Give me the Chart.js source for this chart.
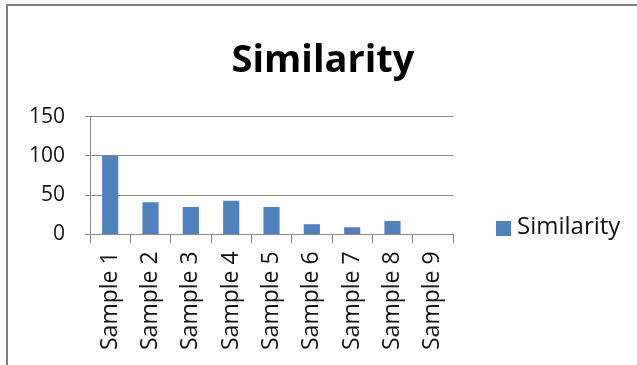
<!DOCTYPE html>
<html>
<head>
<meta charset="utf-8">
<script src="https://cdn.jsdelivr.net/npm/chart.js@4.4.1/dist/chart.umd.min.js"></script>
<style>
  html, body { margin: 0; padding: 0; background: #ffffff; }
  #wrap { position: relative; width: 637px; height: 365px; }
</style>
</head>
<body>
<div id="wrap"><canvas id="chart_similarity"></canvas></div>
<script>
// data
var categories = ['Sample 1', 'Sample 2', 'Sample 3', 'Sample 4', 'Sample 5', 'Sample 6', 'Sample 7', 'Sample 8', 'Sample 9'];
var similarityValues = [100, 41, 35, 43, 35, 13, 9, 17, 0];
var yTicks = [0, 50, 100, 150];

var textColor = '#111111';
var gridColor = '#8a8a8a';

var chart_similarity = new Chart(document.getElementById('chart_similarity'), {
    type: 'bar',
    data: {
        labels: categories,
        datasets: [
            {
                label: 'Similarity',
                data: similarityValues,
                backgroundColor: '#4f81bd',
                borderWidth: 0,
                categoryPercentage: 1.0,
                barPercentage: 0.4
            }
        ]
    },
    options: {
        animation: false,
        responsive: true,
        maintainAspectRatio: false,
        layout: {
            padding: { left: 9, right: 0, top: 0, bottom: 7 }
        },
        plugins: {
            title: {
                display: true,
                text: 'Similarity',
                color: '#000000',
                font: { family: 'Open Sans', size: 38, weight: 'bold' },
                padding: { top: 38, bottom: 33 }
            },
            legend: { display: false },
            tooltip: { enabled: false }
        },
        scales: {
            x: {
                // keep room on the right for the legend, title stays centred on the page
                afterFit: function (axis) {
                    axis.paddingRight = 184;
                },
                grid: {
                    display: true,
                    drawOnChartArea: false,
                    drawTicks: true,
                    tickLength: 9,
                    color: gridColor,
                    offset: true
                },
                border: { display: true, color: gridColor, width: 1 },
                ticks: {
                    color: textColor,
                    font: { family: 'Open Sans', size: 23 },
                    minRotation: 90,
                    maxRotation: 90,
                    padding: 8
                }
            },
            y: {
                min: 0,
                max: 150,
                afterBuildTicks: function (axis) {
                    axis.ticks = yTicks.map(function (v) { return { value: v }; });
                },
                grid: {
                    display: true,
                    color: gridColor,
                    tickLength: 5
                },
                border: { display: true, color: gridColor, width: 1 },
                ticks: {
                    color: textColor,
                    font: { family: 'Open Sans', size: 21 },
                    padding: 20
                }
            }
        }
    },
    plugins: [{
        id: 'pageFrame',
        beforeDraw: function (chart) {
            var ctx = chart.ctx;
            ctx.save();
            ctx.fillStyle = 'white';
            ctx.fillRect(0, 0, chart.width, chart.height);
            ctx.strokeStyle = '#7f7f7f';
            ctx.lineWidth = 2;
            ctx.beginPath();
            ctx.moveTo(7, chart.height);
            ctx.lineTo(7, 5);
            ctx.lineTo(chart.width, 5);
            ctx.stroke();
            ctx.restore();
        }
    }, {
        // the built-in legend is capped in width, so the entry is drawn here
        id: 'sideLegend',
        afterDraw: function (chart) {
            var ctx = chart.ctx;
            var area = chart.chartArea;
            var x = area.right + 43;
            var y = 221;
            ctx.save();
            chart.data.datasets.forEach(function (ds, i) {
                ctx.fillStyle = ds.backgroundColor;
                ctx.fillRect(x, y + i * 30, 15, 15);
                ctx.fillStyle = textColor;
                ctx.font = '24px "Open Sans"';
                ctx.textBaseline = 'middle';
                ctx.textAlign = 'left';
                ctx.fillText(ds.label, x + 21, y + i * 30 + 6.5);
            });
            ctx.restore();
        }
    }]
});
</script>
</body>
</html>
